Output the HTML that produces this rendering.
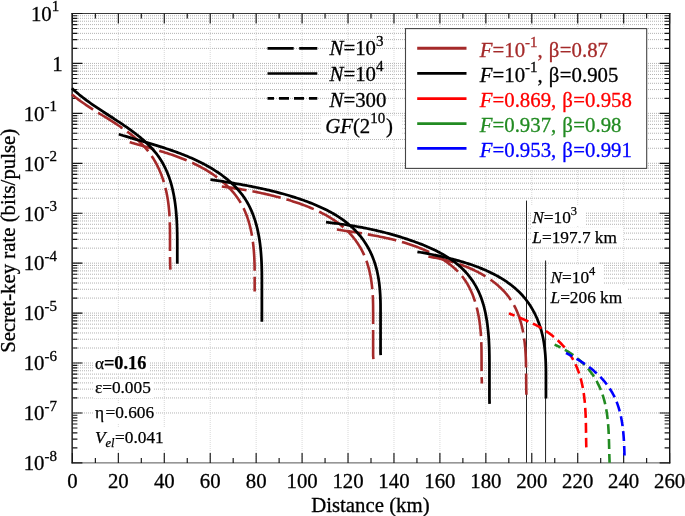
<!DOCTYPE html>
<html><head><meta charset="utf-8"><title>Secret-key rate vs distance</title>
<style>html,body{margin:0;padding:0;background:#fff;overflow:hidden}svg{display:block;will-change:transform}text{font-family:"Liberation Serif",serif}</style></head>
<body>
<svg width="685" height="516" viewBox="0 0 685 516">
<rect width="685" height="516" fill="#fff"/>
<g fill="none" stroke="#a0a0a0" stroke-width="0.8" stroke-dasharray="1 1">
<path d="M74,63.43H669"/>
<path d="M74,48.40H669"/>
<path d="M74,39.61H669"/>
<path d="M74,33.37H669"/>
<path d="M74,28.53H669"/>
<path d="M74,24.58H669"/>
<path d="M74,21.23H669"/>
<path d="M74,18.34H669"/>
<path d="M74,15.78H669"/>
<path d="M74,113.37H669"/>
<path d="M74,98.34H669"/>
<path d="M74,89.54H669"/>
<path d="M74,83.30H669"/>
<path d="M74,78.46H669"/>
<path d="M74,74.51H669"/>
<path d="M74,71.17H669"/>
<path d="M74,68.27H669"/>
<path d="M74,65.72H669"/>
<path d="M74,163.30H669"/>
<path d="M74,148.27H669"/>
<path d="M74,139.48H669"/>
<path d="M74,133.24H669"/>
<path d="M74,128.40H669"/>
<path d="M74,124.44H669"/>
<path d="M74,121.10H669"/>
<path d="M74,118.21H669"/>
<path d="M74,115.65H669"/>
<path d="M74,213.23H669"/>
<path d="M74,198.20H669"/>
<path d="M74,189.41H669"/>
<path d="M74,183.17H669"/>
<path d="M74,178.33H669"/>
<path d="M74,174.38H669"/>
<path d="M74,171.03H669"/>
<path d="M74,168.14H669"/>
<path d="M74,165.58H669"/>
<path d="M74,263.17H669"/>
<path d="M74,248.14H669"/>
<path d="M74,239.34H669"/>
<path d="M74,233.10H669"/>
<path d="M74,228.26H669"/>
<path d="M74,224.31H669"/>
<path d="M74,220.97H669"/>
<path d="M74,218.07H669"/>
<path d="M74,215.52H669"/>
<path d="M74,313.10H669"/>
<path d="M74,298.07H669"/>
<path d="M74,289.28H669"/>
<path d="M74,283.04H669"/>
<path d="M74,278.20H669"/>
<path d="M74,274.24H669"/>
<path d="M74,270.90H669"/>
<path d="M74,268.01H669"/>
<path d="M74,265.45H669"/>
<path d="M74,363.03H669"/>
<path d="M74,348.00H669"/>
<path d="M74,339.21H669"/>
<path d="M74,332.97H669"/>
<path d="M74,328.13H669"/>
<path d="M74,324.18H669"/>
<path d="M74,320.83H669"/>
<path d="M74,317.94H669"/>
<path d="M74,315.38H669"/>
<path d="M74,412.97H669"/>
<path d="M74,397.94H669"/>
<path d="M74,389.14H669"/>
<path d="M74,382.90H669"/>
<path d="M74,378.06H669"/>
<path d="M74,374.11H669"/>
<path d="M74,370.77H669"/>
<path d="M74,367.87H669"/>
<path d="M74,365.32H669"/>
</g>
<g fill="none" stroke="#cfcfcf" stroke-width="0.8" stroke-dasharray="1 1">
<path d="M118.34,14V462"/>
<path d="M164.28,14V462"/>
<path d="M210.22,14V462"/>
<path d="M256.15,14V462"/>
<path d="M302.09,14V462"/>
<path d="M348.03,14V462"/>
<path d="M393.97,14V462"/>
<path d="M439.91,14V462"/>
<path d="M485.85,14V462"/>
<path d="M531.78,14V462"/>
<path d="M577.72,14V462"/>
<path d="M623.66,14V462"/>
</g>
<g fill="#fff">
<rect x="320.5" y="115.5" width="82" height="23.5"/>
<rect x="531" y="205.5" width="54" height="19.5"/>
<rect x="531" y="227.5" width="92" height="19"/>
<rect x="547.5" y="264.5" width="56.5" height="21.5"/>
<rect x="547.5" y="286" width="79.5" height="21.5"/>
<rect x="94" y="355" width="56" height="18"/>
<rect x="94" y="380" width="60" height="18"/>
<rect x="94" y="404" width="62" height="19"/>
<rect x="94" y="428" width="72" height="21"/>
</g>
<path d="M526.50,200.6V462.9" stroke="#222" stroke-width="1" fill="none"/>
<path d="M545.57,260.5V462.9" stroke="#222" stroke-width="1" fill="none"/>
<g fill="none">
<path d="M71.4,13.5H670.4" stroke="#3a3a3a" stroke-width="1.1"/>
<path d="M71.4,462.9H670.4" stroke="#555" stroke-width="1.0"/>
<path d="M72.15,12.95V463.45" stroke="#222" stroke-width="1.5"/>
<path d="M669.7,12.95V463.45" stroke="#111" stroke-width="1.4"/>
</g>
<g fill="none" stroke="#151515" stroke-width="1.15">
<path d="M72.40,462.9v-10M72.40,13.5v10M95.37,462.9v-5M95.37,13.5v5M118.34,462.9v-10M118.34,13.5v10M141.31,462.9v-5M141.31,13.5v5M164.28,462.9v-10M164.28,13.5v10M187.25,462.9v-5M187.25,13.5v5M210.22,462.9v-10M210.22,13.5v10M233.18,462.9v-5M233.18,13.5v5M256.15,462.9v-10M256.15,13.5v10M279.12,462.9v-5M279.12,13.5v5M302.09,462.9v-10M302.09,13.5v10M325.06,462.9v-5M325.06,13.5v5M348.03,462.9v-10M348.03,13.5v10M371.00,462.9v-5M371.00,13.5v5M393.97,462.9v-10M393.97,13.5v10M416.94,462.9v-5M416.94,13.5v5M439.91,462.9v-10M439.91,13.5v10M462.88,462.9v-5M462.88,13.5v5M485.85,462.9v-10M485.85,13.5v10M508.82,462.9v-5M508.82,13.5v5M531.78,462.9v-10M531.78,13.5v10M554.75,462.9v-5M554.75,13.5v5M577.72,462.9v-10M577.72,13.5v10M600.69,462.9v-5M600.69,13.5v5M623.66,462.9v-10M623.66,13.5v10M646.63,462.9v-5M646.63,13.5v5M669.60,462.9v-10M669.60,13.5v10M72.4,13.50h10M669.6,13.50h-10M72.4,48.40h5M669.6,48.40h-5M72.4,39.61h5M669.6,39.61h-5M72.4,33.37h5M669.6,33.37h-5M72.4,28.53h5M669.6,28.53h-5M72.4,24.58h5M669.6,24.58h-5M72.4,21.23h5M669.6,21.23h-5M72.4,18.34h5M669.6,18.34h-5M72.4,15.78h5M669.6,15.78h-5M72.4,63.43h10M669.6,63.43h-10M72.4,98.34h5M669.6,98.34h-5M72.4,89.54h5M669.6,89.54h-5M72.4,83.30h5M669.6,83.30h-5M72.4,78.46h5M669.6,78.46h-5M72.4,74.51h5M669.6,74.51h-5M72.4,71.17h5M669.6,71.17h-5M72.4,68.27h5M669.6,68.27h-5M72.4,65.72h5M669.6,65.72h-5M72.4,113.37h10M669.6,113.37h-10M72.4,148.27h5M669.6,148.27h-5M72.4,139.48h5M669.6,139.48h-5M72.4,133.24h5M669.6,133.24h-5M72.4,128.40h5M669.6,128.40h-5M72.4,124.44h5M669.6,124.44h-5M72.4,121.10h5M669.6,121.10h-5M72.4,118.21h5M669.6,118.21h-5M72.4,115.65h5M669.6,115.65h-5M72.4,163.30h10M669.6,163.30h-10M72.4,198.20h5M669.6,198.20h-5M72.4,189.41h5M669.6,189.41h-5M72.4,183.17h5M669.6,183.17h-5M72.4,178.33h5M669.6,178.33h-5M72.4,174.38h5M669.6,174.38h-5M72.4,171.03h5M669.6,171.03h-5M72.4,168.14h5M669.6,168.14h-5M72.4,165.58h5M669.6,165.58h-5M72.4,213.23h10M669.6,213.23h-10M72.4,248.14h5M669.6,248.14h-5M72.4,239.34h5M669.6,239.34h-5M72.4,233.10h5M669.6,233.10h-5M72.4,228.26h5M669.6,228.26h-5M72.4,224.31h5M669.6,224.31h-5M72.4,220.97h5M669.6,220.97h-5M72.4,218.07h5M669.6,218.07h-5M72.4,215.52h5M669.6,215.52h-5M72.4,263.17h10M669.6,263.17h-10M72.4,298.07h5M669.6,298.07h-5M72.4,289.28h5M669.6,289.28h-5M72.4,283.04h5M669.6,283.04h-5M72.4,278.20h5M669.6,278.20h-5M72.4,274.24h5M669.6,274.24h-5M72.4,270.90h5M669.6,270.90h-5M72.4,268.01h5M669.6,268.01h-5M72.4,265.45h5M669.6,265.45h-5M72.4,313.10h10M669.6,313.10h-10M72.4,348.00h5M669.6,348.00h-5M72.4,339.21h5M669.6,339.21h-5M72.4,332.97h5M669.6,332.97h-5M72.4,328.13h5M669.6,328.13h-5M72.4,324.18h5M669.6,324.18h-5M72.4,320.83h5M669.6,320.83h-5M72.4,317.94h5M669.6,317.94h-5M72.4,315.38h5M669.6,315.38h-5M72.4,363.03h10M669.6,363.03h-10M72.4,397.94h5M669.6,397.94h-5M72.4,389.14h5M669.6,389.14h-5M72.4,382.90h5M669.6,382.90h-5M72.4,378.06h5M669.6,378.06h-5M72.4,374.11h5M669.6,374.11h-5M72.4,370.77h5M669.6,370.77h-5M72.4,367.87h5M669.6,367.87h-5M72.4,365.32h5M669.6,365.32h-5M72.4,412.97h10M669.6,412.97h-10M72.4,447.87h5M669.6,447.87h-5M72.4,439.08h5M669.6,439.08h-5M72.4,432.84h5M669.6,432.84h-5M72.4,428.00h5M669.6,428.00h-5M72.4,424.04h5M669.6,424.04h-5M72.4,420.70h5M669.6,420.70h-5M72.4,417.81h5M669.6,417.81h-5M72.4,415.25h5M669.6,415.25h-5M72.4,462.90h10M669.6,462.90h-10"/>
</g>
<g fill="none" stroke-linejoin="round">
<path d="M71.90,94.40 L72.91,95.25 L73.93,96.08 L74.96,96.91 L76.00,97.73 L77.06,98.54 L78.12,99.35 L79.20,100.15 L80.29,100.94 L81.38,101.72 L82.49,102.51 L83.60,103.28 L84.73,104.05 L85.86,104.82 L87.00,105.58 L88.14,106.34 L89.29,107.09 L90.45,107.84 L91.61,108.59 L92.78,109.34 L93.96,110.08 L95.13,110.82 L96.31,111.56 L97.50,112.30 L98.69,113.04 L99.88,113.78 L101.07,114.51 L102.26,115.25 L103.45,115.99 L104.65,116.72 L105.84,117.46 L107.04,118.20 L108.23,118.94 L109.43,119.69 L110.62,120.43 L111.81,121.18 L112.99,121.93 L114.18,122.69 L115.36,123.45 L116.53,124.21 L117.70,124.98 L118.87,125.75 L120.03,126.53 L121.19,127.31 L122.34,128.10 L123.48,128.89 L124.62,129.69 L125.74,130.50 L126.86,131.32 L127.98,132.14 L129.08,132.97 L130.17,133.80 L131.26,134.65 L132.33,135.50 L133.39,136.37 L134.44,137.24 L135.48,138.12 L136.51,139.02 L137.53,139.92 L138.53,140.83 L139.52,141.76 L140.49,142.69 L141.45,143.64 L142.40,144.60 L143.33,145.57 L144.24,146.56 L145.14,147.56 L146.02,148.57 L146.89,149.59 L147.73,150.63 L148.56,151.69 L149.38,152.75 L150.17,153.83 L150.94,154.93 L151.70,156.04 L152.44,157.16 L153.17,158.29 L153.87,159.44 L154.56,160.59 L155.23,161.76 L155.89,162.94 L156.53,164.13 L157.15,165.34 L157.75,166.55 L158.34,167.77 L158.91,169.01 L159.47,170.25 L160.01,171.50 L160.53,172.76 L161.04,174.03 L161.53,175.31 L162.00,176.59 L162.46,177.88 L162.91,179.18 L163.34,180.49 L163.75,181.81 L164.15,183.13 L164.53,184.45 L164.90,185.79 L165.25,187.12 L165.59,188.47 L165.91,189.82 L166.22,191.17 L166.51,192.53 L166.79,193.89 L167.06,195.25 L167.31,196.62 L167.55,197.99 L167.77,199.37 L167.98,200.74 L168.18,202.12 L168.36,203.50 L168.53,204.89 L168.69,206.27 L168.83,207.66 L168.97,209.05 L169.09,210.44 L169.21,211.83 L169.31,213.23 L169.41,214.62 L169.49,216.02 L169.57,217.41 L169.64,218.81 L169.70,220.20 L169.75,221.60 L169.80,223.00 L169.84,224.40 L169.87,225.79 L169.90,227.19 L169.93,228.59 L169.95,229.99 L169.96,231.38 L169.97,232.78 L169.98,234.17 L169.98,235.56 L169.98,236.95 L169.98,238.34 L169.98,239.73 L169.98,241.12 L169.98,242.50 L169.98,243.89 L169.98,245.27 L169.98,246.65 L169.98,248.02 L169.98,249.40 L169.98,250.77 L169.98,252.14 L169.98,253.50 L169.98,254.86 L169.99,256.22 L170.00,257.58 L170.02,258.93 L170.05,260.28 L170.08,261.62 L170.12,262.96 L170.16,264.30 L170.21,265.63 L170.26,266.96 L170.33,268.28 L170.40,269.60" stroke="#a52a2a" stroke-width="2.6" stroke-dasharray="28.85 5.92" stroke-dashoffset="2.8"/>
<path d="M129.70,142.20 L131.00,142.59 L132.30,142.97 L133.60,143.35 L134.90,143.73 L136.21,144.11 L137.52,144.48 L138.84,144.86 L140.15,145.23 L141.47,145.61 L142.79,145.98 L144.11,146.36 L145.44,146.74 L146.76,147.11 L148.09,147.49 L149.42,147.87 L150.75,148.25 L152.08,148.64 L153.41,149.02 L154.74,149.41 L156.07,149.80 L157.40,150.20 L158.74,150.60 L160.07,151.00 L161.40,151.41 L162.73,151.82 L164.07,152.23 L165.40,152.65 L166.73,153.08 L168.06,153.51 L169.38,153.95 L170.71,154.39 L172.04,154.84 L173.36,155.30 L174.68,155.76 L176.00,156.23 L177.32,156.71 L178.64,157.20 L179.95,157.69 L181.26,158.19 L182.57,158.71 L183.88,159.23 L185.18,159.76 L186.48,160.30 L187.78,160.85 L189.07,161.41 L190.36,161.98 L191.65,162.56 L192.93,163.15 L194.21,163.75 L195.48,164.37 L196.75,164.99 L198.01,165.63 L199.27,166.28 L200.52,166.94 L201.76,167.61 L203.00,168.30 L204.23,168.99 L205.46,169.70 L206.67,170.42 L207.88,171.15 L209.08,171.90 L210.26,172.65 L211.44,173.42 L212.61,174.20 L213.77,174.99 L214.92,175.80 L216.05,176.61 L217.18,177.44 L218.29,178.28 L219.39,179.13 L220.48,180.00 L221.55,180.88 L222.62,181.77 L223.66,182.67 L224.70,183.59 L225.71,184.52 L226.72,185.46 L227.70,186.41 L228.67,187.38 L229.63,188.36 L230.57,189.35 L231.49,190.35 L232.39,191.37 L233.27,192.40 L234.14,193.45 L234.99,194.50 L235.82,195.58 L236.63,196.66 L237.42,197.76 L238.19,198.87 L238.93,199.99 L239.66,201.13 L240.37,202.28 L241.05,203.44 L241.71,204.62 L242.36,205.81 L242.98,207.01 L243.58,208.22 L244.15,209.45 L244.71,210.69 L245.25,211.94 L245.77,213.20 L246.28,214.47 L246.76,215.75 L247.22,217.03 L247.67,218.33 L248.10,219.64 L248.51,220.96 L248.91,222.28 L249.29,223.62 L249.65,224.96 L250.00,226.30 L250.33,227.66 L250.64,229.02 L250.94,230.39 L251.23,231.76 L251.50,233.14 L251.76,234.52 L252.00,235.91 L252.23,237.31 L252.45,238.71 L252.66,240.11 L252.85,241.51 L253.03,242.92 L253.20,244.33 L253.36,245.75 L253.51,247.17 L253.64,248.58 L253.77,250.00 L253.89,251.42 L253.99,252.85 L254.09,254.27 L254.18,255.69 L254.26,257.11 L254.33,258.53 L254.39,259.96 L254.45,261.38 L254.50,262.79 L254.54,264.21 L254.57,265.62 L254.60,267.03 L254.62,268.44 L254.64,269.85 L254.65,271.25 L254.66,272.65 L254.66,274.04 L254.66,275.43 L254.66,276.81 L254.66,278.19 L254.66,279.56 L254.66,280.93 L254.66,282.29 L254.66,283.64 L254.66,284.99 L254.66,286.33 L254.66,287.66 L254.66,288.98 L254.66,290.29 L254.66,291.60" stroke="#a52a2a" stroke-width="2.6" stroke-dasharray="29 6" stroke-dashoffset="4.2"/>
<path d="M221.80,186.50 L223.50,186.72 L225.19,186.94 L226.88,187.17 L228.57,187.40 L230.25,187.63 L231.93,187.87 L233.60,188.12 L235.27,188.37 L236.94,188.62 L238.61,188.88 L240.27,189.15 L241.93,189.42 L243.59,189.69 L245.25,189.97 L246.90,190.26 L248.56,190.56 L250.21,190.86 L251.86,191.16 L253.50,191.48 L255.15,191.80 L256.79,192.12 L258.44,192.46 L260.08,192.80 L261.72,193.15 L263.37,193.50 L265.01,193.87 L266.65,194.24 L268.29,194.62 L269.93,195.01 L271.57,195.40 L273.21,195.81 L274.85,196.22 L276.50,196.65 L278.14,197.08 L279.78,197.52 L281.43,197.97 L283.07,198.43 L284.72,198.90 L286.37,199.38 L288.02,199.87 L289.67,200.36 L291.32,200.87 L292.98,201.40 L294.63,201.93 L296.28,202.47 L297.92,203.03 L299.57,203.60 L301.21,204.18 L302.84,204.77 L304.47,205.38 L306.10,206.00 L307.72,206.64 L309.33,207.29 L310.94,207.95 L312.54,208.63 L314.12,209.32 L315.70,210.03 L317.27,210.76 L318.83,211.50 L320.38,212.26 L321.91,213.04 L323.44,213.84 L324.95,214.65 L326.44,215.48 L327.92,216.33 L329.39,217.19 L330.84,218.08 L332.27,218.99 L333.69,219.91 L335.09,220.86 L336.47,221.83 L337.83,222.81 L339.17,223.82 L340.49,224.85 L341.79,225.90 L343.07,226.98 L344.33,228.07 L345.56,229.19 L346.77,230.34 L347.95,231.50 L349.11,232.69 L350.25,233.91 L351.36,235.14 L352.44,236.40 L353.50,237.69 L354.52,238.99 L355.53,240.32 L356.50,241.66 L357.44,243.03 L358.36,244.42 L359.25,245.83 L360.11,247.25 L360.93,248.70 L361.73,250.16 L362.50,251.64 L363.24,253.14 L363.94,254.66 L364.61,256.19 L365.25,257.74 L365.86,259.30 L366.44,260.88 L366.99,262.47 L367.51,264.07 L368.01,265.69 L368.47,267.32 L368.91,268.95 L369.32,270.60 L369.71,272.26 L370.07,273.93 L370.41,275.61 L370.72,277.29 L371.01,278.99 L371.28,280.68 L371.53,282.39 L371.75,284.10 L371.96,285.81 L372.14,287.53 L372.31,289.25 L372.46,290.97 L372.59,292.70 L372.70,294.43 L372.80,296.16 L372.88,297.89 L372.95,299.62 L373.01,301.35 L373.05,303.09 L373.09,304.82 L373.11,306.56 L373.12,308.29 L373.13,310.03 L373.13,311.76 L373.13,313.50 L373.13,315.23 L373.13,316.96 L373.13,318.69 L373.13,320.42 L373.13,322.14 L373.13,323.87 L373.13,325.59 L373.13,327.31 L373.13,329.03 L373.13,330.74 L373.13,332.45 L373.13,334.15 L373.13,335.85 L373.13,337.55 L373.13,339.24 L373.13,340.93 L373.13,342.61 L373.13,344.29 L373.13,345.96 L373.13,347.63 L373.13,349.29 L373.13,350.94 L373.13,352.59 L373.13,354.22 L373.15,355.86 L373.27,357.48 L373.40,359.10" stroke="#a52a2a" stroke-width="2.6" stroke-dasharray="29 6" stroke-dashoffset="4"/>
<path d="M336.90,229.50 L338.43,229.74 L339.96,229.97 L341.49,230.21 L343.03,230.44 L344.56,230.67 L346.10,230.91 L347.63,231.14 L349.17,231.38 L350.70,231.61 L352.24,231.85 L353.78,232.09 L355.32,232.33 L356.86,232.57 L358.39,232.82 L359.93,233.07 L361.47,233.32 L363.01,233.57 L364.55,233.83 L366.08,234.09 L367.62,234.36 L369.15,234.63 L370.69,234.90 L372.22,235.18 L373.76,235.46 L375.29,235.75 L376.82,236.04 L378.35,236.34 L379.88,236.65 L381.40,236.96 L382.93,237.28 L384.45,237.61 L385.97,237.94 L387.49,238.28 L389.01,238.63 L390.53,238.99 L392.04,239.35 L393.55,239.73 L395.06,240.11 L396.57,240.50 L398.07,240.90 L399.57,241.31 L401.07,241.73 L402.56,242.16 L404.05,242.60 L405.54,243.05 L407.03,243.51 L408.51,243.99 L409.99,244.47 L411.47,244.97 L412.94,245.48 L414.41,246.00 L415.87,246.53 L417.33,247.08 L418.79,247.64 L420.24,248.21 L421.69,248.80 L423.13,249.40 L424.57,250.01 L426.00,250.64 L427.43,251.28 L428.86,251.94 L430.28,252.62 L431.69,253.31 L433.10,254.01 L434.50,254.73 L435.89,255.47 L437.27,256.23 L438.64,257.00 L440.00,257.79 L441.34,258.60 L442.68,259.43 L443.99,260.27 L445.30,261.13 L446.58,262.02 L447.85,262.92 L449.10,263.84 L450.33,264.78 L451.54,265.75 L452.73,266.73 L453.90,267.73 L455.05,268.76 L456.17,269.81 L457.26,270.88 L458.33,271.97 L459.38,273.09 L460.39,274.23 L461.38,275.39 L462.34,276.57 L463.27,277.78 L464.17,279.02 L465.04,280.27 L465.88,281.54 L466.69,282.84 L467.48,284.15 L468.24,285.49 L468.97,286.84 L469.68,288.21 L470.36,289.60 L471.02,291.00 L471.65,292.42 L472.25,293.85 L472.84,295.30 L473.39,296.76 L473.93,298.23 L474.44,299.71 L474.93,301.21 L475.40,302.71 L475.85,304.23 L476.27,305.75 L476.68,307.28 L477.07,308.82 L477.43,310.37 L477.78,311.92 L478.10,313.47 L478.41,315.03 L478.70,316.60 L478.98,318.16 L479.23,319.73 L479.47,321.30 L479.69,322.87 L479.90,324.45 L480.09,326.02 L480.27,327.58 L480.43,329.15 L480.57,330.71 L480.71,332.27 L480.83,333.83 L480.94,335.39 L481.03,336.94 L481.12,338.49 L481.19,340.04 L481.26,341.58 L481.32,343.13 L481.37,344.67 L481.41,346.22 L481.44,347.76 L481.47,349.30 L481.49,350.84 L481.51,352.38 L481.52,353.92 L481.53,355.46 L481.54,357.00 L481.55,358.55 L481.55,360.09 L481.55,361.63 L481.56,363.18 L481.56,364.73 L481.57,366.28 L481.57,367.83 L481.58,369.38 L481.60,370.94 L481.61,372.50 L481.63,374.06 L481.66,375.62 L481.69,377.19 L481.73,378.76 L481.78,380.34 L481.84,381.92 L481.90,383.50" stroke="#a52a2a" stroke-width="2.6" stroke-dasharray="29 6" stroke-dashoffset="3.7"/>
<path d="M428.40,256.60 L429.57,256.79 L430.73,256.98 L431.90,257.18 L433.08,257.39 L434.25,257.60 L435.43,257.83 L436.60,258.06 L437.78,258.30 L438.96,258.54 L440.14,258.80 L441.32,259.06 L442.50,259.33 L443.68,259.61 L444.86,259.90 L446.04,260.19 L447.22,260.50 L448.40,260.81 L449.58,261.13 L450.76,261.46 L451.93,261.80 L453.11,262.15 L454.28,262.51 L455.45,262.87 L456.62,263.25 L457.78,263.63 L458.95,264.02 L460.11,264.43 L461.27,264.84 L462.42,265.26 L463.57,265.69 L464.72,266.13 L465.87,266.59 L467.01,267.05 L468.14,267.52 L469.27,268.00 L470.40,268.49 L471.53,268.99 L472.64,269.50 L473.76,270.02 L474.86,270.55 L475.97,271.10 L477.06,271.65 L478.15,272.22 L479.24,272.79 L480.32,273.38 L481.39,273.97 L482.45,274.58 L483.51,275.20 L484.56,275.83 L485.60,276.47 L486.64,277.12 L487.67,277.79 L488.69,278.46 L489.70,279.15 L490.70,279.85 L491.69,280.56 L492.67,281.28 L493.65,282.01 L494.61,282.76 L495.56,283.51 L496.50,284.28 L497.42,285.06 L498.34,285.85 L499.24,286.66 L500.13,287.47 L501.01,288.30 L501.87,289.14 L502.72,289.99 L503.55,290.85 L504.37,291.73 L505.17,292.62 L505.96,293.51 L506.73,294.43 L507.48,295.35 L508.22,296.28 L508.94,297.23 L509.64,298.19 L510.32,299.16 L510.99,300.15 L511.63,301.15 L512.26,302.15 L512.87,303.17 L513.46,304.21 L514.04,305.25 L514.59,306.30 L515.13,307.36 L515.66,308.44 L516.16,309.52 L516.65,310.61 L517.13,311.71 L517.58,312.82 L518.03,313.93 L518.46,315.06 L518.87,316.19 L519.27,317.33 L519.65,318.48 L520.02,319.63 L520.37,320.79 L520.71,321.96 L521.04,323.13 L521.36,324.31 L521.66,325.49 L521.95,326.67 L522.22,327.86 L522.49,329.06 L522.74,330.26 L522.98,331.46 L523.21,332.67 L523.42,333.87 L523.63,335.08 L523.82,336.30 L524.01,337.51 L524.18,338.73 L524.35,339.95 L524.50,341.16 L524.65,342.38 L524.78,343.61 L524.91,344.83 L525.03,346.05 L525.14,347.27 L525.25,348.50 L525.34,349.72 L525.43,350.95 L525.51,352.18 L525.59,353.40 L525.66,354.63 L525.72,355.85 L525.78,357.08 L525.83,358.31 L525.87,359.54 L525.92,360.76 L525.95,361.99 L525.99,363.22 L526.02,364.44 L526.04,365.67 L526.06,366.89 L526.08,368.12 L526.10,369.34 L526.12,370.56 L526.13,371.78 L526.14,373.00 L526.15,374.22 L526.16,375.44 L526.17,376.66 L526.17,377.87 L526.18,379.09 L526.19,380.30 L526.20,381.51 L526.21,382.72 L526.21,383.93 L526.23,385.13 L526.24,386.34 L526.25,387.54 L526.27,388.74 L526.29,389.94 L526.31,391.13 L526.34,392.32 L526.37,393.51 L526.40,394.70" stroke="#a52a2a" stroke-width="2.6" stroke-dasharray="29 6" stroke-dashoffset="3.2"/>
<path d="M71.90,88.30 L72.94,89.25 L73.98,90.19 L75.03,91.11 L76.08,92.02 L77.14,92.92 L78.21,93.81 L79.28,94.69 L80.35,95.56 L81.44,96.42 L82.52,97.27 L83.62,98.11 L84.71,98.95 L85.82,99.77 L86.92,100.59 L88.03,101.40 L89.15,102.20 L90.27,103.00 L91.39,103.79 L92.52,104.58 L93.65,105.36 L94.78,106.13 L95.92,106.91 L97.06,107.67 L98.21,108.44 L99.35,109.20 L100.50,109.96 L101.65,110.72 L102.81,111.47 L103.97,112.23 L105.13,112.98 L106.29,113.73 L107.45,114.49 L108.62,115.24 L109.79,116.00 L110.96,116.75 L112.13,117.51 L113.30,118.27 L114.47,119.03 L115.65,119.80 L116.82,120.57 L118.00,121.34 L119.17,122.12 L120.35,122.90 L121.53,123.68 L122.70,124.48 L123.88,125.28 L125.05,126.08 L126.23,126.89 L127.40,127.71 L128.57,128.53 L129.73,129.36 L130.89,130.20 L132.04,131.04 L133.19,131.89 L134.33,132.75 L135.47,133.62 L136.60,134.49 L137.72,135.37 L138.83,136.26 L139.93,137.16 L141.02,138.07 L142.10,138.99 L143.17,139.91 L144.23,140.85 L145.27,141.79 L146.30,142.75 L147.32,143.71 L148.33,144.69 L149.31,145.67 L150.29,146.67 L151.24,147.67 L152.18,148.69 L153.11,149.72 L154.01,150.76 L154.90,151.81 L155.76,152.87 L156.61,153.95 L157.43,155.03 L158.24,156.13 L159.02,157.25 L159.78,158.37 L160.52,159.51 L161.24,160.65 L161.94,161.81 L162.62,162.98 L163.27,164.17 L163.91,165.36 L164.53,166.56 L165.13,167.78 L165.71,169.00 L166.27,170.23 L166.82,171.48 L167.34,172.73 L167.85,173.99 L168.34,175.26 L168.81,176.54 L169.27,177.82 L169.71,179.12 L170.14,180.42 L170.54,181.73 L170.94,183.05 L171.31,184.38 L171.68,185.71 L172.02,187.05 L172.36,188.39 L172.68,189.74 L172.98,191.10 L173.27,192.46 L173.55,193.83 L173.82,195.21 L174.07,196.58 L174.31,197.97 L174.54,199.35 L174.76,200.75 L174.96,202.14 L175.16,203.54 L175.34,204.94 L175.52,206.35 L175.68,207.76 L175.83,209.17 L175.97,210.58 L176.11,212.00 L176.23,213.42 L176.35,214.84 L176.46,216.26 L176.56,217.68 L176.65,219.10 L176.73,220.53 L176.81,221.95 L176.88,223.38 L176.94,224.80 L177.00,226.23 L177.05,227.65 L177.09,229.07 L177.13,230.49 L177.17,231.92 L177.20,233.34 L177.22,234.75 L177.24,236.17 L177.26,237.58 L177.27,238.99 L177.28,240.40 L177.29,241.81 L177.29,243.21 L177.29,244.61 L177.29,246.01 L177.29,247.40 L177.29,248.78 L177.29,250.17 L177.29,251.55 L177.29,252.92 L177.29,254.29 L177.29,255.65 L177.29,257.01 L177.29,258.36 L177.29,259.70 L177.29,261.04 L177.29,262.37 L177.29,263.70" stroke="#000" stroke-width="2.75"/>
<path d="M118.80,134.20 L120.40,134.70 L122.00,135.21 L123.60,135.70 L125.21,136.19 L126.82,136.68 L128.44,137.17 L130.05,137.65 L131.67,138.13 L133.29,138.61 L134.91,139.09 L136.54,139.57 L138.17,140.05 L139.79,140.52 L141.42,141.00 L143.05,141.48 L144.68,141.96 L146.31,142.44 L147.95,142.92 L149.58,143.40 L151.21,143.89 L152.84,144.38 L154.47,144.87 L156.11,145.37 L157.74,145.87 L159.37,146.38 L160.99,146.89 L162.62,147.41 L164.25,147.93 L165.87,148.46 L167.49,148.99 L169.11,149.53 L170.73,150.08 L172.35,150.64 L173.96,151.21 L175.57,151.78 L177.18,152.36 L178.78,152.96 L180.38,153.56 L181.98,154.17 L183.57,154.80 L185.16,155.43 L186.75,156.08 L188.33,156.73 L189.90,157.40 L191.48,158.09 L193.04,158.78 L194.60,159.49 L196.16,160.21 L197.71,160.95 L199.26,161.70 L200.79,162.47 L202.33,163.25 L203.85,164.05 L205.37,164.86 L206.89,165.70 L208.39,166.54 L209.89,167.41 L211.39,168.29 L212.87,169.19 L214.34,170.11 L215.81,171.05 L217.26,172.00 L218.70,172.97 L220.12,173.96 L221.53,174.97 L222.93,176.00 L224.31,177.04 L225.67,178.10 L227.01,179.18 L228.34,180.28 L229.64,181.40 L230.92,182.54 L232.18,183.69 L233.41,184.86 L234.62,186.05 L235.81,187.26 L236.96,188.49 L238.09,189.74 L239.20,191.00 L240.27,192.29 L241.31,193.59 L242.32,194.91 L243.29,196.25 L244.24,197.61 L245.15,198.99 L246.03,200.38 L246.88,201.79 L247.71,203.22 L248.50,204.66 L249.26,206.13 L249.99,207.60 L250.70,209.09 L251.37,210.60 L252.02,212.12 L252.65,213.66 L253.25,215.20 L253.82,216.76 L254.37,218.34 L254.89,219.92 L255.39,221.52 L255.86,223.13 L256.32,224.75 L256.75,226.38 L257.15,228.02 L257.54,229.68 L257.91,231.34 L258.25,233.00 L258.58,234.68 L258.89,236.37 L259.18,238.06 L259.45,239.76 L259.70,241.47 L259.94,243.18 L260.16,244.90 L260.36,246.63 L260.55,248.36 L260.72,250.10 L260.88,251.84 L261.02,253.58 L261.15,255.33 L261.27,257.08 L261.38,258.83 L261.47,260.59 L261.55,262.34 L261.63,264.10 L261.69,265.86 L261.74,267.62 L261.78,269.38 L261.82,271.14 L261.84,272.90 L261.86,274.66 L261.87,276.42 L261.88,278.18 L261.88,279.93 L261.88,281.68 L261.88,283.43 L261.88,285.17 L261.88,286.91 L261.88,288.65 L261.88,290.38 L261.88,292.10 L261.88,293.82 L261.88,295.54 L261.88,297.24 L261.88,298.94 L261.88,300.64 L261.88,302.32 L261.88,304.00 L261.88,305.67 L261.88,307.33 L261.88,308.98 L261.88,310.62 L261.88,312.25 L261.88,313.87 L261.88,315.48 L261.88,317.08 L261.88,318.67 L261.88,320.24 L261.88,321.80" stroke="#000" stroke-width="2.75"/>
<path d="M210.40,179.50 L212.19,179.78 L213.99,180.06 L215.78,180.34 L217.57,180.62 L219.36,180.90 L221.14,181.18 L222.93,181.47 L224.71,181.75 L226.49,182.04 L228.27,182.33 L230.05,182.63 L231.83,182.93 L233.60,183.23 L235.38,183.53 L237.15,183.84 L238.92,184.15 L240.69,184.46 L242.46,184.78 L244.23,185.10 L245.99,185.43 L247.76,185.76 L249.52,186.10 L251.28,186.44 L253.04,186.79 L254.80,187.15 L256.56,187.51 L258.31,187.87 L260.07,188.25 L261.82,188.62 L263.57,189.01 L265.33,189.40 L267.08,189.81 L268.82,190.21 L270.57,190.63 L272.32,191.05 L274.06,191.49 L275.81,191.93 L277.55,192.38 L279.29,192.83 L281.03,193.30 L282.77,193.78 L284.51,194.27 L286.24,194.76 L287.98,195.27 L289.71,195.78 L291.45,196.31 L293.18,196.85 L294.91,197.40 L296.64,197.96 L298.37,198.53 L300.10,199.11 L301.83,199.70 L303.55,200.31 L305.28,200.93 L307.00,201.56 L308.72,202.21 L310.43,202.87 L312.14,203.54 L313.85,204.23 L315.54,204.93 L317.23,205.65 L318.92,206.39 L320.59,207.14 L322.25,207.91 L323.91,208.69 L325.55,209.50 L327.18,210.32 L328.80,211.16 L330.40,212.03 L331.99,212.91 L333.57,213.81 L335.13,214.73 L336.67,215.67 L338.20,216.64 L339.71,217.63 L341.20,218.64 L342.67,219.67 L344.12,220.72 L345.55,221.80 L346.96,222.91 L348.34,224.04 L349.70,225.19 L351.04,226.37 L352.35,227.58 L353.64,228.81 L354.90,230.07 L356.13,231.35 L357.34,232.65 L358.52,233.98 L359.67,235.33 L360.79,236.71 L361.88,238.11 L362.94,239.53 L363.96,240.98 L364.96,242.44 L365.92,243.93 L366.85,245.44 L367.74,246.97 L368.60,248.52 L369.42,250.09 L370.22,251.68 L370.98,253.29 L371.70,254.92 L372.40,256.56 L373.06,258.21 L373.69,259.89 L374.29,261.57 L374.85,263.27 L375.39,264.99 L375.89,266.71 L376.37,268.45 L376.81,270.20 L377.23,271.95 L377.61,273.72 L377.97,275.50 L378.29,277.28 L378.59,279.07 L378.87,280.87 L379.11,282.67 L379.34,284.48 L379.54,286.30 L379.72,288.12 L379.88,289.95 L380.01,291.78 L380.13,293.61 L380.24,295.45 L380.32,297.29 L380.39,299.13 L380.45,300.98 L380.49,302.83 L380.52,304.68 L380.53,306.53 L380.54,308.38 L380.54,310.23 L380.54,312.08 L380.54,313.93 L380.54,315.78 L380.54,317.62 L380.54,319.47 L380.54,321.31 L380.54,323.15 L380.54,324.98 L380.54,326.81 L380.54,328.64 L380.54,330.46 L380.54,332.27 L380.54,334.09 L380.54,335.89 L380.54,337.69 L380.54,339.48 L380.54,341.26 L380.54,343.04 L380.54,344.80 L380.54,346.56 L380.54,348.31 L380.54,350.05 L380.54,351.78 L380.58,353.49 L380.70,355.20" stroke="#000" stroke-width="2.75"/>
<path d="M326.00,222.20 L327.83,222.40 L329.66,222.61 L331.48,222.82 L333.30,223.04 L335.11,223.27 L336.92,223.50 L338.73,223.74 L340.53,223.99 L342.33,224.24 L344.13,224.49 L345.92,224.76 L347.71,225.03 L349.50,225.31 L351.28,225.59 L353.06,225.89 L354.84,226.19 L356.61,226.49 L358.38,226.81 L360.15,227.13 L361.91,227.46 L363.68,227.80 L365.44,228.15 L367.19,228.50 L368.95,228.86 L370.70,229.23 L372.45,229.61 L374.20,230.00 L375.95,230.40 L377.70,230.80 L379.44,231.22 L381.18,231.64 L382.93,232.07 L384.67,232.51 L386.40,232.96 L388.14,233.42 L389.88,233.90 L391.61,234.38 L393.35,234.86 L395.08,235.36 L396.81,235.87 L398.54,236.39 L400.28,236.93 L402.01,237.47 L403.74,238.02 L405.47,238.58 L407.20,239.15 L408.93,239.74 L410.66,240.33 L412.39,240.94 L414.12,241.55 L415.85,242.18 L417.58,242.82 L419.30,243.48 L421.03,244.14 L422.75,244.82 L424.46,245.52 L426.17,246.23 L427.88,246.95 L429.57,247.69 L431.26,248.45 L432.93,249.23 L434.60,250.02 L436.25,250.83 L437.89,251.66 L439.52,252.51 L441.13,253.38 L442.73,254.27 L444.31,255.18 L445.88,256.12 L447.42,257.07 L448.95,258.05 L450.45,259.05 L451.94,260.08 L453.40,261.13 L454.84,262.21 L456.25,263.31 L457.64,264.44 L459.00,265.59 L460.34,266.77 L461.64,267.99 L462.92,269.22 L464.17,270.49 L465.39,271.79 L466.57,273.11 L467.73,274.46 L468.85,275.84 L469.94,277.25 L471.00,278.67 L472.03,280.13 L473.03,281.60 L473.99,283.10 L474.91,284.63 L475.81,286.17 L476.66,287.74 L477.49,289.33 L478.28,290.94 L479.03,292.57 L479.74,294.22 L480.42,295.89 L481.07,297.57 L481.68,299.27 L482.26,300.99 L482.81,302.71 L483.33,304.46 L483.81,306.21 L484.28,307.97 L484.71,309.75 L485.12,311.53 L485.50,313.32 L485.86,315.11 L486.20,316.91 L486.51,318.72 L486.80,320.53 L487.08,322.33 L487.33,324.14 L487.57,325.96 L487.79,327.77 L487.99,329.59 L488.17,331.40 L488.34,333.22 L488.50,335.04 L488.63,336.86 L488.76,338.68 L488.87,340.51 L488.97,342.33 L489.06,344.15 L489.14,345.98 L489.20,347.80 L489.26,349.63 L489.30,351.45 L489.34,353.27 L489.37,355.10 L489.40,356.92 L489.41,358.75 L489.42,360.57 L489.43,362.40 L489.43,364.22 L489.43,366.04 L489.43,367.86 L489.43,369.68 L489.43,371.50 L489.43,373.32 L489.43,375.13 L489.43,376.95 L489.43,378.76 L489.43,380.57 L489.43,382.38 L489.43,384.19 L489.43,385.99 L489.43,387.79 L489.43,389.59 L489.43,391.39 L489.43,393.19 L489.43,394.98 L489.43,396.77 L489.43,398.56 L489.48,400.34 L489.53,402.12 L489.60,403.90" stroke="#000" stroke-width="2.75"/>
<path d="M417.40,251.80 L418.68,252.03 L419.97,252.26 L421.26,252.49 L422.57,252.72 L423.88,252.97 L425.20,253.21 L426.53,253.46 L427.86,253.71 L429.20,253.97 L430.55,254.23 L431.90,254.50 L433.26,254.77 L434.63,255.05 L436.00,255.33 L437.37,255.62 L438.75,255.91 L440.13,256.21 L441.52,256.51 L442.91,256.83 L444.30,257.14 L445.70,257.47 L447.09,257.80 L448.49,258.13 L449.90,258.48 L451.30,258.83 L452.70,259.19 L454.11,259.55 L455.51,259.93 L456.92,260.31 L458.32,260.69 L459.72,261.09 L461.13,261.50 L462.53,261.91 L463.93,262.33 L465.32,262.76 L466.72,263.20 L468.11,263.65 L469.50,264.10 L470.89,264.57 L472.27,265.04 L473.65,265.53 L475.02,266.02 L476.39,266.53 L477.75,267.04 L479.11,267.56 L480.46,268.10 L481.81,268.64 L483.15,269.20 L484.49,269.77 L485.81,270.34 L487.13,270.93 L488.44,271.53 L489.75,272.14 L491.04,272.77 L492.33,273.40 L493.61,274.05 L494.87,274.71 L496.13,275.38 L497.38,276.06 L498.62,276.76 L499.85,277.47 L501.06,278.19 L502.27,278.92 L503.46,279.67 L504.64,280.43 L505.81,281.20 L506.96,281.99 L508.11,282.79 L509.24,283.61 L510.35,284.44 L511.45,285.28 L512.54,286.14 L513.61,287.01 L514.67,287.90 L515.71,288.80 L516.74,289.72 L517.75,290.66 L518.74,291.60 L519.72,292.57 L520.67,293.55 L521.62,294.54 L522.54,295.55 L523.45,296.58 L524.33,297.62 L525.20,298.68 L526.05,299.76 L526.89,300.85 L527.70,301.95 L528.50,303.07 L529.28,304.20 L530.03,305.35 L530.78,306.51 L531.50,307.69 L532.20,308.87 L532.89,310.07 L533.55,311.29 L534.20,312.51 L534.83,313.75 L535.44,315.00 L536.04,316.25 L536.61,317.52 L537.17,318.80 L537.70,320.09 L538.22,321.39 L538.72,322.70 L539.20,324.02 L539.66,325.35 L540.11,326.68 L540.53,328.03 L540.94,329.38 L541.33,330.74 L541.70,332.11 L542.05,333.48 L542.38,334.87 L542.69,336.25 L542.99,337.65 L543.26,339.05 L543.53,340.45 L543.77,341.86 L544.00,343.28 L544.21,344.69 L544.41,346.12 L544.59,347.55 L544.76,348.98 L544.91,350.41 L545.06,351.84 L545.19,353.28 L545.30,354.72 L545.41,356.17 L545.50,357.61 L545.59,359.06 L545.66,360.50 L545.73,361.95 L545.78,363.39 L545.83,364.84 L545.87,366.28 L545.90,367.73 L545.93,369.17 L545.94,370.61 L545.96,372.05 L545.96,373.49 L545.96,374.93 L545.96,376.36 L545.96,377.79 L545.96,379.21 L545.96,380.63 L545.96,382.05 L545.96,383.46 L545.96,384.87 L545.96,386.27 L545.96,387.67 L545.96,389.06 L545.96,390.44 L545.96,391.82 L545.96,393.19 L545.96,394.56 L545.96,395.91 L545.96,397.26 L545.96,398.60" stroke="#000" stroke-width="2.75"/>
<path d="M509.00,313.40 L509.99,313.80 L510.98,314.20 L511.96,314.60 L512.95,314.99 L513.95,315.39 L514.94,315.79 L515.93,316.20 L516.92,316.60 L517.92,317.00 L518.91,317.41 L519.90,317.82 L520.89,318.23 L521.88,318.65 L522.87,319.06 L523.86,319.49 L524.84,319.91 L525.83,320.34 L526.81,320.78 L527.79,321.22 L528.77,321.66 L529.75,322.11 L530.72,322.57 L531.69,323.03 L532.66,323.50 L533.62,323.97 L534.58,324.45 L535.54,324.94 L536.49,325.44 L537.44,325.94 L538.39,326.45 L539.33,326.98 L540.26,327.50 L541.19,328.04 L542.12,328.59 L543.04,329.15 L543.95,329.72 L544.86,330.29 L545.76,330.88 L546.66,331.48 L547.54,332.09 L548.43,332.71 L549.30,333.34 L550.17,333.98 L551.03,334.63 L551.89,335.30 L552.73,335.97 L553.57,336.65 L554.40,337.34 L555.22,338.05 L556.04,338.76 L556.84,339.48 L557.64,340.21 L558.42,340.95 L559.20,341.70 L559.97,342.46 L560.72,343.23 L561.47,344.00 L562.21,344.79 L562.93,345.58 L563.65,346.39 L564.35,347.20 L565.05,348.02 L565.73,348.84 L566.40,349.68 L567.06,350.52 L567.70,351.37 L568.34,352.23 L568.96,353.10 L569.57,353.98 L570.16,354.86 L570.75,355.75 L571.32,356.64 L571.87,357.55 L572.41,358.46 L572.94,359.37 L573.46,360.30 L573.96,361.23 L574.44,362.16 L574.92,363.11 L575.38,364.05 L575.82,365.01 L576.26,365.97 L576.68,366.94 L577.08,367.91 L577.48,368.89 L577.86,369.87 L578.23,370.86 L578.59,371.85 L578.94,372.85 L579.28,373.85 L579.60,374.86 L579.92,375.88 L580.22,376.89 L580.52,377.91 L580.80,378.94 L581.07,379.97 L581.33,381.00 L581.59,382.04 L581.83,383.08 L582.06,384.13 L582.29,385.18 L582.50,386.23 L582.71,387.28 L582.91,388.34 L583.10,389.40 L583.28,390.47 L583.45,391.53 L583.62,392.60 L583.78,393.67 L583.93,394.74 L584.07,395.82 L584.21,396.90 L584.34,397.98 L584.46,399.06 L584.57,400.14 L584.68,401.23 L584.79,402.31 L584.89,403.40 L584.98,404.49 L585.07,405.57 L585.15,406.66 L585.22,407.75 L585.30,408.84 L585.36,409.94 L585.43,411.03 L585.48,412.12 L585.54,413.21 L585.59,414.30 L585.63,415.40 L585.68,416.49 L585.72,417.58 L585.75,418.67 L585.79,419.76 L585.82,420.85 L585.85,421.93 L585.87,423.02 L585.90,424.10 L585.92,425.19 L585.94,426.27 L585.96,427.35 L585.98,428.43 L586.00,429.51 L586.01,430.58 L586.03,431.66 L586.04,432.73 L586.06,433.79 L586.07,434.86 L586.08,435.92 L586.10,436.98 L586.11,438.04 L586.13,439.09 L586.14,440.14 L586.16,441.19 L586.18,442.24 L586.20,443.28 L586.22,444.31 L586.25,445.35 L586.27,446.37 L586.30,447.40" stroke="#ff0000" stroke-width="2.6" stroke-dasharray="10 5" stroke-dashoffset="4"/>
<path d="M554.60,344.60 L555.41,344.96 L556.22,345.33 L557.02,345.71 L557.83,346.09 L558.63,346.48 L559.42,346.87 L560.22,347.28 L561.01,347.69 L561.80,348.10 L562.59,348.53 L563.37,348.96 L564.15,349.39 L564.93,349.84 L565.70,350.29 L566.47,350.74 L567.23,351.21 L567.99,351.68 L568.74,352.15 L569.49,352.64 L570.24,353.13 L570.98,353.62 L571.72,354.13 L572.45,354.64 L573.18,355.15 L573.90,355.67 L574.61,356.20 L575.32,356.74 L576.03,357.28 L576.73,357.83 L577.42,358.39 L578.11,358.95 L578.79,359.52 L579.46,360.09 L580.13,360.67 L580.79,361.26 L581.44,361.86 L582.09,362.46 L582.73,363.06 L583.36,363.68 L583.99,364.30 L584.61,364.92 L585.22,365.55 L585.82,366.19 L586.41,366.84 L587.00,367.49 L587.58,368.15 L588.15,368.81 L588.71,369.48 L589.26,370.16 L589.81,370.84 L590.34,371.53 L590.87,372.22 L591.39,372.92 L591.90,373.63 L592.40,374.34 L592.90,375.06 L593.38,375.78 L593.86,376.51 L594.33,377.24 L594.79,377.98 L595.24,378.72 L595.68,379.47 L596.12,380.22 L596.54,380.98 L596.96,381.75 L597.37,382.51 L597.77,383.28 L598.16,384.06 L598.55,384.84 L598.92,385.63 L599.29,386.42 L599.65,387.21 L600.00,388.01 L600.34,388.81 L600.68,389.61 L601.00,390.42 L601.32,391.24 L601.63,392.05 L601.93,392.87 L602.22,393.69 L602.51,394.52 L602.78,395.35 L603.05,396.18 L603.31,397.02 L603.56,397.86 L603.81,398.70 L604.04,399.54 L604.27,400.39 L604.49,401.24 L604.71,402.09 L604.91,402.94 L605.11,403.80 L605.31,404.66 L605.49,405.52 L605.67,406.39 L605.85,407.25 L606.01,408.12 L606.18,408.99 L606.33,409.86 L606.48,410.73 L606.62,411.61 L606.76,412.49 L606.89,413.37 L607.02,414.25 L607.14,415.13 L607.26,416.01 L607.37,416.90 L607.47,417.78 L607.58,418.67 L607.67,419.55 L607.77,420.44 L607.85,421.33 L607.94,422.22 L608.02,423.12 L608.09,424.01 L608.17,424.90 L608.23,425.79 L608.30,426.69 L608.36,427.58 L608.42,428.47 L608.48,429.37 L608.53,430.26 L608.58,431.16 L608.63,432.05 L608.67,432.95 L608.71,433.84 L608.75,434.74 L608.79,435.63 L608.82,436.53 L608.86,437.42 L608.89,438.31 L608.92,439.20 L608.95,440.10 L608.98,440.99 L609.00,441.88 L609.03,442.77 L609.05,443.65 L609.07,444.54 L609.10,445.43 L609.12,446.31 L609.14,447.20 L609.16,448.08 L609.18,448.96 L609.20,449.84 L609.22,450.72 L609.24,451.59 L609.26,452.47 L609.29,453.34 L609.31,454.21 L609.33,455.08 L609.36,455.95 L609.38,456.81 L609.41,457.67 L609.44,458.53 L609.47,459.39 L609.50,460.25 L609.53,461.10 L609.56,461.95 L609.60,462.80" stroke="#228b22" stroke-width="2.6" stroke-dasharray="10 5" stroke-dashoffset="3.5"/>
<path d="M566.00,353.00 L566.70,353.36 L567.39,353.72 L568.09,354.09 L568.79,354.46 L569.48,354.83 L570.18,355.20 L570.87,355.58 L571.57,355.96 L572.27,356.34 L572.96,356.73 L573.65,357.12 L574.35,357.51 L575.04,357.91 L575.73,358.31 L576.42,358.71 L577.11,359.12 L577.80,359.53 L578.48,359.95 L579.17,360.36 L579.85,360.79 L580.53,361.21 L581.21,361.64 L581.88,362.07 L582.56,362.51 L583.23,362.95 L583.90,363.40 L584.56,363.85 L585.23,364.30 L585.89,364.76 L586.55,365.22 L587.20,365.69 L587.85,366.16 L588.50,366.63 L589.14,367.11 L589.78,367.60 L590.42,368.08 L591.05,368.58 L591.68,369.08 L592.31,369.58 L592.93,370.09 L593.54,370.60 L594.15,371.12 L594.76,371.64 L595.36,372.16 L595.96,372.70 L596.55,373.23 L597.14,373.78 L597.72,374.32 L598.30,374.87 L598.87,375.43 L599.44,375.99 L600.00,376.56 L600.55,377.13 L601.10,377.71 L601.65,378.29 L602.19,378.88 L602.72,379.47 L603.24,380.07 L603.76,380.67 L604.28,381.27 L604.79,381.88 L605.29,382.49 L605.78,383.11 L606.27,383.74 L606.75,384.37 L607.23,385.00 L607.70,385.63 L608.16,386.28 L608.62,386.92 L609.07,387.57 L609.51,388.22 L609.94,388.88 L610.37,389.55 L610.79,390.21 L611.20,390.88 L611.61,391.56 L612.00,392.24 L612.39,392.92 L612.77,393.61 L613.15,394.30 L613.52,394.99 L613.87,395.69 L614.23,396.39 L614.57,397.10 L614.90,397.81 L615.23,398.53 L615.55,399.24 L615.86,399.96 L616.16,400.69 L616.46,401.42 L616.75,402.15 L617.03,402.88 L617.30,403.62 L617.57,404.36 L617.83,405.11 L618.08,405.85 L618.33,406.60 L618.57,407.36 L618.80,408.11 L619.02,408.87 L619.24,409.63 L619.46,410.39 L619.67,411.16 L619.87,411.92 L620.06,412.69 L620.25,413.47 L620.43,414.24 L620.61,415.02 L620.78,415.79 L620.95,416.57 L621.11,417.36 L621.27,418.14 L621.42,418.93 L621.56,419.71 L621.70,420.50 L621.84,421.29 L621.97,422.08 L622.10,422.87 L622.22,423.67 L622.33,424.46 L622.45,425.26 L622.56,426.05 L622.66,426.85 L622.76,427.65 L622.86,428.45 L622.95,429.25 L623.04,430.05 L623.12,430.85 L623.20,431.65 L623.28,432.45 L623.36,433.25 L623.43,434.05 L623.50,434.86 L623.56,435.66 L623.62,436.46 L623.68,437.26 L623.74,438.06 L623.79,438.86 L623.85,439.67 L623.89,440.47 L623.94,441.27 L623.99,442.07 L624.03,442.87 L624.07,443.66 L624.11,444.46 L624.14,445.26 L624.18,446.05 L624.21,446.85 L624.24,447.64 L624.27,448.43 L624.30,449.23 L624.33,450.01 L624.36,450.80 L624.38,451.59 L624.41,452.38 L624.43,453.16 L624.45,453.94 L624.48,454.72 L624.50,455.50" stroke="#0000ff" stroke-width="2.6" stroke-dasharray="10 5" stroke-dashoffset="3"/>
</g>
<g font-family="'Liberation Serif', serif" font-size="20.8" fill="#000" stroke="#000" stroke-width="0.3">
<text x="72.40" y="487.6" text-anchor="middle">0</text>
<text x="118.34" y="487.6" text-anchor="middle">20</text>
<text x="164.28" y="487.6" text-anchor="middle">40</text>
<text x="210.22" y="487.6" text-anchor="middle">60</text>
<text x="256.15" y="487.6" text-anchor="middle">80</text>
<text x="302.09" y="487.6" text-anchor="middle">100</text>
<text x="348.03" y="487.6" text-anchor="middle">120</text>
<text x="393.97" y="487.6" text-anchor="middle">140</text>
<text x="439.91" y="487.6" text-anchor="middle">160</text>
<text x="485.85" y="487.6" text-anchor="middle">180</text>
<text x="531.78" y="487.6" text-anchor="middle">200</text>
<text x="577.72" y="487.6" text-anchor="middle">220</text>
<text x="623.66" y="487.6" text-anchor="middle">240</text>
<text x="669.60" y="487.6" text-anchor="middle">260</text>
<text x="59.2" y="20.80" text-anchor="end">10<tspan font-size="15" dy="-9.7">1</tspan></text>
<text x="62.6" y="70.73" text-anchor="end">1</text>
<text x="57.0" y="120.67" text-anchor="end">10<tspan font-size="15" dy="-9.7">-1</tspan></text>
<text x="57.0" y="170.60" text-anchor="end">10<tspan font-size="15" dy="-9.7">-2</tspan></text>
<text x="57.0" y="220.53" text-anchor="end">10<tspan font-size="15" dy="-9.7">-3</tspan></text>
<text x="57.0" y="270.47" text-anchor="end">10<tspan font-size="15" dy="-9.7">-4</tspan></text>
<text x="57.0" y="320.40" text-anchor="end">10<tspan font-size="15" dy="-9.7">-5</tspan></text>
<text x="57.0" y="370.33" text-anchor="end">10<tspan font-size="15" dy="-9.7">-6</tspan></text>
<text x="57.0" y="420.27" text-anchor="end">10<tspan font-size="15" dy="-9.7">-7</tspan></text>
<text x="57.0" y="470.20" text-anchor="end">10<tspan font-size="15" dy="-9.7">-8</tspan></text>
<text x="370.4" y="511.6" text-anchor="middle">Distance (km)</text>
<text transform="translate(15.2,240.8) rotate(-90)" text-anchor="middle">Secret-key rate (bits/pulse)</text>
<g fill="none" stroke="#000" stroke-width="2.6">
<path d="M267.5,48.4H317.3" stroke-dasharray="29 5.5" stroke-dashoffset="2.8"/>
<path d="M267.5,73.5H317.3"/>
<path d="M267.5,98.4H317.3" stroke-dasharray="10 5" stroke-dashoffset="3.5"/>
</g>
<text x="329.6" y="55.2"><tspan font-style="italic">N</tspan>=10<tspan font-size="15" dy="-9.7">3</tspan></text>
<text x="329.6" y="80.9"><tspan font-style="italic">N</tspan>=10<tspan font-size="15" dy="-9.7">4</tspan></text>
<text x="329.6" y="106.6"><tspan font-style="italic">N</tspan>=300</text>
<text x="325.2" y="132.8"><tspan font-style="italic">GF</tspan>(2<tspan font-size="15" dy="-9.7">10</tspan><tspan dy="9.7" dx="0.8">)</tspan></text>
<rect x="405.5" y="28.6" width="241.2" height="139.8" fill="#fff" stroke="#444" stroke-width="1.1"/>
<path d="M417.2,48.3H466.5" stroke="#a52a2a" stroke-width="2.9" fill="none"/>
<text x="479.8" y="57.0" fill="#a52a2a" stroke="#a52a2a"><tspan font-style="italic">F</tspan>=10<tspan font-size="15" dy="-9.7">-1</tspan><tspan dy="9.7">,<tspan dx="0.9"> β</tspan><tspan dx="0.4">=0.87</tspan></tspan></text>
<path d="M417.2,73.4H466.5" stroke="#000" stroke-width="2.9" fill="none"/>
<text x="479.8" y="81.9" fill="#000" stroke="#000"><tspan font-style="italic">F</tspan>=10<tspan font-size="15" dy="-9.7">-1</tspan><tspan dy="9.7">,<tspan dx="0.9"> β</tspan><tspan dx="0.4">=0.905</tspan></tspan></text>
<path d="M417.2,98.6H466.5" stroke="#ff0000" stroke-width="2.9" fill="none"/>
<text x="479.8" y="106.6" fill="#ff0000" stroke="#ff0000"><tspan font-style="italic">F</tspan>=0.869,<tspan dx="0.9"> β</tspan><tspan dx="0.4">=0.958</tspan></text>
<path d="M417.2,123.6H466.5" stroke="#228b22" stroke-width="2.9" fill="none"/>
<text x="479.8" y="131.9" fill="#228b22" stroke="#228b22"><tspan font-style="italic">F</tspan>=0.937,<tspan dx="0.9"> β</tspan><tspan dx="0.4">=0.98</tspan></text>
<path d="M417.2,148.4H466.5" stroke="#0000ff" stroke-width="2.9" fill="none"/>
<text x="479.8" y="156.7" fill="#0000ff" stroke="#0000ff"><tspan font-style="italic">F</tspan>=0.953,<tspan dx="0.9"> β</tspan><tspan dx="0.4">=0.991</tspan></text>
</g>
<g font-family="'Liberation Serif', serif" font-size="17.3" fill="#000" stroke="#000" stroke-width="0.25">
<text x="532.3" y="222.7"><tspan font-style="italic">N</tspan>=10<tspan font-size="12.5" dy="-8">3</tspan></text>
<text x="532.3" y="243.1"><tspan font-style="italic">L</tspan>=197.7 km</text>
<text x="550.5" y="283.0"><tspan font-style="italic">N</tspan>=10<tspan font-size="12.5" dy="-8">4</tspan></text>
<text x="550.5" y="303.4"><tspan font-style="italic">L</tspan>=206 km</text>
<text x="94.9" y="368.7">α<tspan font-weight="bold" font-size="18.3">=0.16</tspan></text>
<text x="94.9" y="392.5">ε=0.005</text>
<text x="94.9" y="418.0">η<tspan dx="1.5">=0.606</tspan></text>
<text x="95.0" y="442.5"><tspan font-style="italic">V</tspan><tspan font-style="italic" font-size="12.5" dy="4">el</tspan><tspan dy="-4" dx="0.5">=0.041</tspan></text>
</g>
</svg>
</body></html>
